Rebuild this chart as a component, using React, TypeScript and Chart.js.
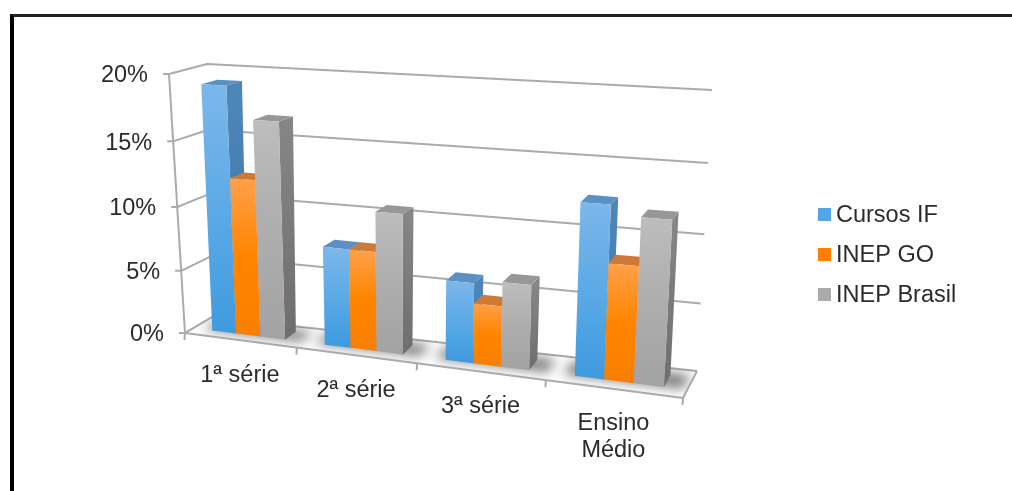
import React, { useEffect, useRef } from "react";
import { Chart, registerables } from "chart.js";

Chart.register(...registerables);

const categories = [["1ª série"], ["2ª série"], ["3ª série"], ["Ensino", "Médio"]];
const seriesNames = ["Cursos IF", "INEP GO", "INEP Brasil"];
const cursosIF = [19.1, 7.6, 6.0, 12.5];
const inepGO = [12.2, 7.6, 4.5, 8.4];
const inepBrasil = [16.7, 10.6, 6.3, 11.8];
const seriesValues = [cursosIF, inepGO, inepBrasil];

const yMax = 20;
const yStep = 5;

type Pt = [number, number];

// Corners of the 3D plot box on the canvas: F/B = front/back, L/R, B/T = bottom/top.
const box = {
  FLB: [185, 333] as Pt, FLT: [169, 74] as Pt,
  FRB: [683, 398] as Pt, FRT: [699, 102] as Pt,
  BLB: [212, 317] as Pt, BLT: [207, 64] as Pt,
  BRB: [697, 371] as Pt, BRT: [712, 90] as Pt,
};

const barDepth = [0.3, 0.74];
const clusterShift = 0.0015;

const palette = [
  { front: ["#7CB7EA", "#5DAAE6", "#3F9BDF"], side: ["#4F86B9", "#3E76A8"], top: "#5A90C4", key: "#55A5E6" },
  { front: ["#FFA04A", "#FF8500", "#F97F00"], side: ["#CC7A35", "#B96A25"], top: "#CE7A36", key: "#FF8000" },
  { front: ["#BDBDBD", "#AEAEAE", "#A3A3A3"], side: ["#868686", "#6E6E6E"], top: "#979797", key: "#ABABAB" },
];

const lerp = (a: Pt, b: Pt, t: number): Pt => [a[0] + (b[0] - a[0]) * t, a[1] + (b[1] - a[1]) * t];

// Foreshortening along the category and value directions.
const warpU = (u: number) => u - 0.135 * u * (1 - u);
const warpV = (v: number) => v * 0.946 + 0.054 * v * v;

// u: along the categories, v: up the value axis, z: front (0) to back (1).
function project(u: number, v: number, z: number): Pt {
  const U = warpU(u);
  const V = warpV(v);
  const frontBottom = lerp(box.FLB, box.FRB, U);
  const frontTop = lerp(box.FLT, box.FRT, U);
  const backBottom = lerp(box.BLB, box.BRB, U);
  const backTop = lerp(box.BLT, box.BRT, U);
  return lerp(lerp(frontBottom, frontTop, V), lerp(backBottom, backTop, V), z);
}

function poly(ctx: CanvasRenderingContext2D, pts: Pt[]) {
  ctx.beginPath();
  pts.forEach((p, i) => (i ? ctx.lineTo(p[0], p[1]) : ctx.moveTo(p[0], p[1])));
  ctx.closePath();
}

function seg(ctx: CanvasRenderingContext2D, pts: Pt[]) {
  ctx.beginPath();
  pts.forEach((p, i) => (i ? ctx.lineTo(p[0], p[1]) : ctx.moveTo(p[0], p[1])));
  ctx.stroke();
}

function ramp(ctx: CanvasRenderingContext2D, y0: number, y1: number, colors: string[]) {
  const g = ctx.createLinearGradient(0, y0, 0, y1);
  colors.forEach((c, i) => g.addColorStop(i / (colors.length - 1), c));
  return g;
}

const LINE = "#ABABAB";
const TEXT = "#2B2B2B";
const FONT = '23.5px "Liberation Sans", Arial, sans-serif';

const scene3d = {
  id: "scene3d",
  beforeDatasetsDraw(chart: any) {
    const { ctx, chartArea: area, scales } = chart;
    const toU = (px: number) => (px - area.left) / area.width;
    const toV = (px: number) => (area.bottom - px) / area.height;

    ctx.save();
    ctx.lineJoin = "round";

    // Floor slab
    const floor = [project(0, 0, 0), project(1, 0, 0), project(1, 0, 1), project(0, 0, 1)];
    poly(ctx, floor);
    ctx.fillStyle = "#FFFFFF";
    ctx.fill();

    // Wall grid: one polyline per tick, from the axis notch over the side wall and along the back
    ctx.strokeStyle = LINE;
    ctx.lineWidth = 2;
    scales.y.ticks.forEach((tick: any) => {
      const v = toV(scales.y.getPixelForValue(tick.value));
      const a = project(0, v, 0);
      seg(ctx, [[a[0] - 6, a[1]], a, project(0, v, 1), project(1, v, 1)]);
    });
    seg(ctx, [project(0, 0, 0), project(0, 1, 0)]);

    // Soft contact shadows around each bar cluster, kept on the floor
    ctx.save();
    poly(ctx, floor);
    ctx.clip();
    ctx.filter = "blur(6px)";
    ctx.fillStyle = "rgba(0,0,0,0.5)";
    const first = chart.getDatasetMeta(0).data;
    const last = chart.getDatasetMeta(seriesValues.length - 1).data;
    first.forEach((el: any, j: number) => {
      const l = toU(el.x - el.width / 2) + clusterShift - 0.022;
      const r = toU(last[j].x + last[j].width / 2) + clusterShift + 0.034;
      poly(ctx, [project(l, 0, 0.3), project(r, 0, 0.3), project(r, 0, 0.84), project(l, 0, 0.84)]);
      ctx.fill();
    });
    ctx.restore();

    // Floor outline and category notches
    seg(ctx, [project(0, 0, 1), project(0, 0, 0), project(1, 0, 0), project(1, 0, 1)]);
    const count = categories.length;
    for (let i = 0; i <= count; i++) {
      const half = area.width / count / 2;
      const px = i < count ? scales.x.getPixelForTick(i) - half : scales.x.getPixelForTick(count - 1) + half;
      const a = project(toU(px), 0, 0);
      seg(ctx, [a, [a[0] - 0.5, a[1] + 7]]);
    }

    // Bars: left to right so that each front face covers the previous side face
    const [z0, z1] = barDepth;
    categories.forEach((_, j) => {
      seriesValues.forEach((_s, i) => {
        const el = chart.getDatasetMeta(i).data[j];
        const l = toU(el.x - el.width / 2) + clusterShift;
        const r = toU(el.x + el.width / 2) + clusterShift;
        const v = toV(el.y);
        const b = toV(el.base);
        const colors = palette[i];

        const side = [project(r, b, z0), project(r, v, z0), project(r, v, z1), project(r, b, z1)];
        poly(ctx, side);
        ctx.fillStyle = ramp(ctx, side[1][1], side[0][1], colors.side);
        ctx.fill();

        poly(ctx, [project(l, v, z0), project(r, v, z0), project(r, v, z1), project(l, v, z1)]);
        ctx.fillStyle = colors.top;
        ctx.fill();

        const front = [project(l, b, z0), project(l, v, z0), project(r, v, z0), project(r, b, z0)];
        poly(ctx, front);
        ctx.fillStyle = ramp(ctx, front[1][1], front[0][1], colors.front);
        ctx.fill();
      });
    });

    // Value labels follow the slanted front edge
    ctx.font = FONT;
    ctx.fillStyle = TEXT;
    ctx.textBaseline = "middle";
    ctx.textAlign = "right";
    scales.y.ticks.forEach((tick: any) => {
      const a = project(0, toV(scales.y.getPixelForValue(tick.value)), 0);
      ctx.fillText(`${tick.value}%`, a[0] - 21, a[1] + 2);
    });

    // Category labels hang below the front edge of the floor
    ctx.textAlign = "center";
    categories.forEach((lines, j) => {
      const a = project(toU(scales.x.getPixelForTick(j)), 0, 0);
      lines.forEach((line, k) => ctx.fillText(line, a[0], a[1] + 35 + k * 27));
    });

    // Series key
    ctx.textAlign = "left";
    chart.data.datasets.forEach((ds: any, i: number) => {
      const cy = 214.5 + i * 40;
      ctx.fillStyle = palette[i].key;
      ctx.fillRect(818, cy - 6.5, 13, 13);
      ctx.fillStyle = TEXT;
      ctx.fillText(ds.label, 836, cy + 1);
    });

    ctx.restore();
  },
};

export default function App() {
  const ref = useRef<HTMLCanvasElement>(null);

  useEffect(() => {
    const chart = new Chart(ref.current!, {
      type: "bar",
      data: {
        labels: categories,
        datasets: seriesNames.map((label, i) => ({
          label,
          data: seriesValues[i],
          backgroundColor: "transparent",
          borderWidth: 0,
          categoryPercentage: 0.655,
          barPercentage: 1,
        })),
      },
      options: {
        responsive: false,
        animation: false,
        plugins: { legend: { display: false }, tooltip: { enabled: false } },
        scales: {
          x: { ticks: { display: false }, grid: { display: false }, border: { display: false } },
          y: {
            min: 0,
            max: yMax,
            ticks: { display: false, stepSize: yStep },
            grid: { display: false },
            border: { display: false },
          },
        },
      },
      plugins: [scene3d],
    });
    return () => chart.destroy();
  }, []);

  return (
    <>
      <canvas ref={ref} width={1012} height={491} style={{ position: "absolute", left: 0, top: 0, display: "block" }} />
      <div
        style={{
          position: "absolute",
          left: 10,
          top: 14,
          right: 0,
          bottom: 0,
          borderLeft: "4px solid #000",
          borderTop: "3px solid #222",
          pointerEvents: "none",
        }}
      />
    </>
  );
}
